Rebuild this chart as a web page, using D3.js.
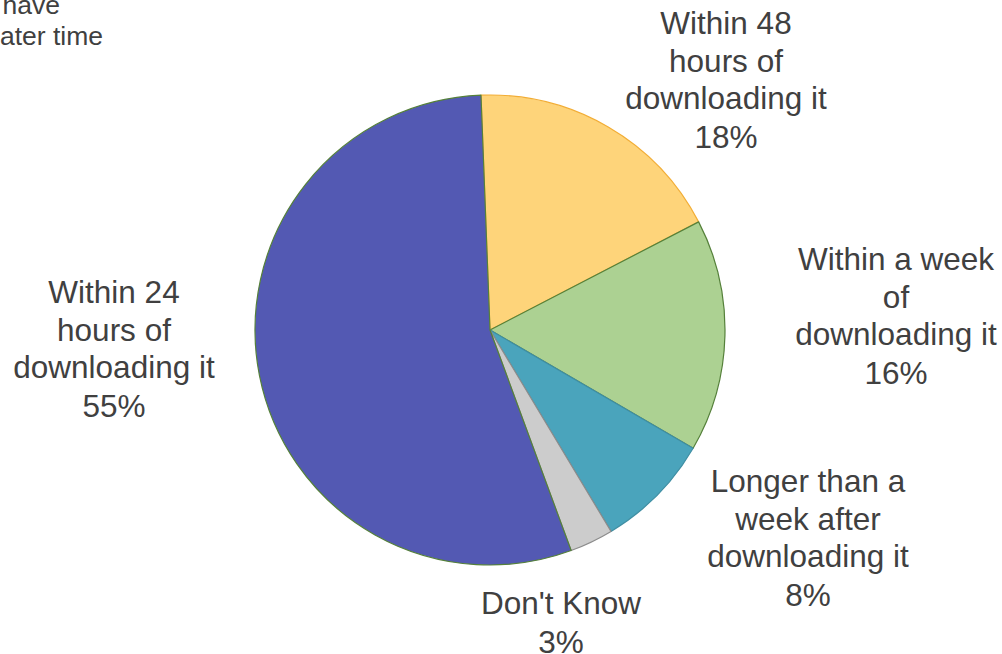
<!DOCTYPE html>
<html>
<head>
<meta charset="utf-8">
<script src="https://cdn.jsdelivr.net/npm/d3@7"></script>
<style>
  html, body { margin: 0; padding: 0; background: #fff; }
  svg { display: block; }
  text { font-family: "Liberation Sans", Arial, sans-serif; fill: #404040; }
</style>
</head>
<body>
<svg id="chart" width="1002" height="654"></svg>
<script>
// Pie data, clockwise from the top
const categories = [
  "Within 48 hours of downloading it",
  "Within a week of downloading it",
  "Longer than a week after downloading it",
  "Don't Know",
  "Within 24 hours of downloading it"
];
const values = [18, 16, 8, 3, 55];
const labelLines = [
  ["Within 48", "hours of", "downloading it"],
  ["Within a week", "of", "downloading it"],
  ["Longer than a", "week after", "downloading it"],
  ["Don't Know"],
  ["Within 24", "hours of", "downloading it"]
];
const titleLines = ["have", "later time"];

const fills   = ["#fed47a", "#acd192", "#4aa4bc", "#cccccc", "#5359b3"];
const strokes = ["#f2ad35", "#55803a", "#3f8ea3", "#8c8c8c", "#55803a"];

// label anchor (centre x, first line centre y)
const labelPos = [[726, 23], [896, 259], [808, 481], [561, 603], [114, 292]];

const svg = d3.select("#chart");
const cx = 490, cy = 330, r = 235;
const lineH = 37.5;

const pie = d3.pie().sort(null).value(d => d)
  .startAngle(-2.2 * Math.PI / 180)
  .endAngle(2 * Math.PI - 2.2 * Math.PI / 180);
const arc = d3.arc().innerRadius(0).outerRadius(r);
const arcs = pie(values);

const g = svg.append("g").attr("transform", `translate(${cx},${cy})`);
g.selectAll("path.slice")
  .data(arcs)
  .join("path")
  .attr("class", "slice")
  .attr("d", arc)
  .attr("fill", (d, i) => fills[i])
  .attr("stroke", (d, i) => strokes[i])
  .attr("stroke-width", 1.2)
  .attr("stroke-linejoin", "round");

// slice labels: name lines + percentage
const lab = svg.selectAll("text.label")
  .data(arcs)
  .join("text")
  .attr("class", "label")
  .attr("text-anchor", "middle")
  .attr("font-size", 31.5);
lab.each(function (d, i) {
  const t = d3.select(this);
  const lines = labelLines[i].concat([values[i] + "%"]);
  lines.forEach((s, k) => {
    t.append("tspan")
      .attr("x", labelPos[i][0])
      .attr("y", labelPos[i][1] + k * lineH + (k === lines.length - 1 ? 1.5 : 0))
      .attr("dy", "0.35em")
      .text(s);
  });
});

// title, partly outside the frame
svg.selectAll("text.title")
  .data(titleLines)
  .join("text")
  .attr("class", "title")
  .attr("text-anchor", "end")
  .attr("font-size", 26.5)
  .attr("x", (d, i) => i === 0 ? 60 : 103)
  .attr("y", (d, i) => 14 + i * 31)
  .text(d => d);
</script>
</body>
</html>
